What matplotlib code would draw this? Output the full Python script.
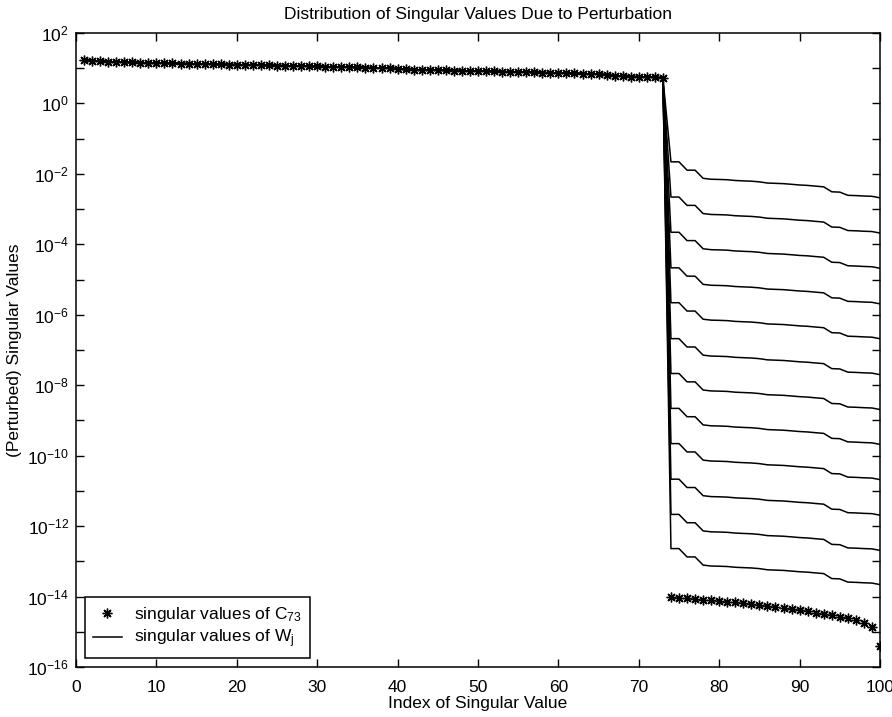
import numpy as np
import matplotlib
matplotlib.use("Agg")
import matplotlib.pyplot as plt
from matplotlib.ticker import NullLocator

plt.rcParams['font.family'] = ['Liberation Sans', 'DejaVu Sans']
plt.rcParams['mathtext.fontset'] = 'custom'
plt.rcParams['mathtext.rm'] = 'Liberation Sans'
plt.rcParams['mathtext.it'] = 'Liberation Sans:italic'
plt.rcParams['axes.unicode_minus'] = False

# singular values of C_73 (index 1..100)
c73_head = [17.0, 16.2, 15.8, 15.4, 15.1, 14.8, 14.6, 14.4, 14.2, 14.0,
            13.8, 13.7, 13.5, 13.4, 13.2, 13.1, 12.9, 12.8, 12.7, 12.5,
            12.4, 12.3, 12.1, 12.0, 11.9, 11.7, 11.6, 11.5, 11.3, 11.2,
            11.1, 10.9, 10.8, 10.7, 10.5, 10.4, 10.3, 10.2, 10.0, 9.6,
            9.2, 9.1, 9.0, 8.9, 8.8, 8.7, 8.6, 8.5, 8.4, 8.3,
            8.2, 8.1, 8.0, 7.9, 7.8, 7.7, 7.6, 7.5, 7.4, 7.3,
            7.2, 7.1, 7.0, 6.9, 6.8, 6.4, 6.0, 5.9, 5.8, 5.7,
            5.6, 5.5, 5.3]
c73_tail = [1.0e-14, 9.3e-15, 8.9e-15, 8.5e-15, 8.1e-15, 7.8e-15, 7.4e-15,
            7.1e-15, 6.8e-15, 6.5e-15, 6.2e-15, 5.8e-15, 5.5e-15, 5.1e-15,
            4.8e-15, 4.5e-15, 4.2e-15, 3.9e-15, 3.5e-15, 3.2e-15, 3.0e-15,
            2.7e-15, 2.4e-15, 2.1e-15, 1.8e-15, 1.35e-15, 4.0e-16]

# perturbed singular values W_j: first value after index 73, one per line
w_start = [2.2e-2, 2.2e-3, 2.2e-4, 2.15e-5, 2.2e-6, 2.1e-7,
           2.15e-8, 2.2e-9, 2.2e-10, 2.15e-11, 2.15e-12, 2.3e-13]
# shape of the tail (index 74..100) relative to its first value
w_shape = [1.0, 1.0, 0.58, 0.58, 0.34, 0.32, 0.316, 0.31, 0.295, 0.288,
           0.282, 0.27, 0.25, 0.245, 0.24, 0.23, 0.22, 0.214, 0.204,
           0.195, 0.141, 0.138, 0.112, 0.11, 0.107, 0.105, 0.095]

x_ticks = [0, 10, 20, 30, 40, 50, 60, 70, 80, 90, 100]
y_exps = list(range(-16, 3))

c73 = np.array(c73_head + c73_tail)
idx = np.arange(1, len(c73) + 1)

fig = plt.figure(figsize=(8.92, 7.17), dpi=100)
ax = fig.add_axes([76 / 892, 50 / 717, 804 / 892, 634 / 717])

fs = 12.5
line_h = None
for s in w_start:
    w = np.array(c73_head + [s * r for r in w_shape])
    line_h, = ax.semilogy(idx, w, color='k', lw=1.1)

star_h, = ax.semilogy(idx, c73, ls='none', marker=(8, 2, 0), ms=7,
                      mew=1.0, color='k')

ax.set_xlim(0, 100)
ax.set_ylim(1e-16, 1e2)
ax.set_xticks(x_ticks)
ax.set_xticklabels([str(t) for t in x_ticks], fontsize=fs)
ax.set_yticks([10.0 ** k for k in y_exps])
ax.set_yticklabels([r'$\mathregular{10^{%d}}$' % k if k % 2 == 0 else ''
                    for k in y_exps], fontsize=fs)
ax.yaxis.set_minor_locator(NullLocator())
ax.tick_params(which='both', direction='in', top=True, right=True,
               length=6, width=1.0)
ax.tick_params(axis='x', pad=9)
ax.tick_params(axis='y', pad=5)
for sp in ax.spines.values():
    sp.set_linewidth(1.1)

ax.set_title('Distribution of Singular Values Due to Perturbation',
             fontsize=fs, pad=10)
ax.set_xlabel('Index of Singular Value', fontsize=fs, labelpad=1)
ax.set_ylabel('(Perturbed) Singular Values', fontsize=fs, labelpad=4)

leg = ax.legend([star_h, line_h],
                [r'singular values of C$\mathregular{_{73}}$',
                 r'singular values of W$\mathregular{_{j}}$'],
                loc='lower left', bbox_to_anchor=(0.011, 0.014),
                borderaxespad=0, fancybox=False, edgecolor='k',
                framealpha=1, fontsize=fs, handlelength=1.7,
                handletextpad=0.7, labelspacing=0.2, borderpad=0.45)
leg.get_frame().set_linewidth(1.1)

fig.savefig('out.png', dpi=100)
